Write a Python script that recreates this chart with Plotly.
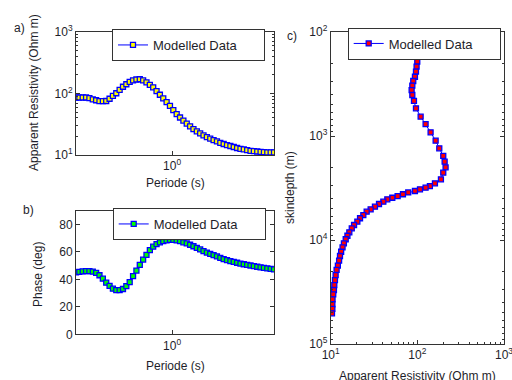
import plotly.graph_objects as go

# ---------------- data ----------------
period = [0.1259, 0.1353, 0.1455, 0.1564, 0.1681, 0.1808, 0.1943, 0.2089, 0.2246, 0.2415,
          0.2597, 0.2791, 0.3001, 0.3227, 0.3469, 0.3729, 0.4009, 0.4311, 0.4634, 0.4983,
          0.5356, 0.5758, 0.6191, 0.6655, 0.7156, 0.7691, 0.8270, 0.8889, 0.9556, 1.0275,
          1.1046, 1.1875, 1.2767, 1.3725, 1.4757, 1.5864, 1.7055, 1.8336, 1.9711, 2.1193,
          2.2782, 2.4491, 2.6333, 2.8308, 3.0434, 3.2718, 3.5172, 3.7818, 4.0654, 4.3712,
          4.6989, 5.0512, 5.4312, 5.8386, 6.2777, 6.7484, 7.2545, 7.8004, 8.3849, 9.0157]

app_res = [86.1, 86.1, 86.1, 86.1, 84.1, 80.4, 77.6, 75.3, 75.0, 75.5,
           82.2, 91.2, 101.0, 114.8, 128.8, 141.3, 154.9, 164.0, 169.0, 170.6,
           163.0, 151.4, 138.0, 125.9, 109.6, 95.5, 83.2, 72.4, 63.1, 53.7,
           46.2, 40.7, 36.3, 32.4, 29.2, 26.3, 24.3, 22.4, 20.9, 19.5,
           18.4, 17.4, 16.6, 15.8, 15.1, 14.5, 14.0, 13.5, 13.0, 12.6,
           12.3, 12.0, 11.7, 11.6, 11.4, 11.2, 11.1, 11.0, 11.0, 11.0]

phase = [45.1, 45.4, 45.8, 46.0, 46.0, 45.7, 44.7, 43.0, 40.5, 37.6,
         35.2, 33.2, 32.2, 32.1, 33.0, 35.1, 38.0, 42.3, 46.4, 50.5,
         54.4, 57.9, 61.3, 63.8, 65.7, 67.0, 67.8, 68.4, 68.8, 68.8,
         68.4, 67.8, 67.0, 66.2, 65.2, 64.1, 63.0, 61.8, 60.6, 59.5,
         58.6, 57.6, 56.7, 55.7, 54.8, 54.0, 53.3, 52.7, 52.1, 51.5,
         51.0, 50.6, 50.1, 49.6, 49.2, 48.8, 48.4, 48.0, 47.6, 47.3]

depth_res = [99.8, 98.0, 96.4, 93.8, 89.7, 87.5, 85.9, 87.5, 91.4, 96.4,
             109.1, 124.5, 142.2, 162.6, 179.1, 199.1, 206.5, 211.8, 199.1, 187.1,
             159.6, 139.6, 124.5, 107.2, 93.8, 78.5, 68.2, 59.2, 51.4, 45.0,
             40.5, 36.1, 32.4, 28.9, 26.0, 23.8, 21.8, 20.3, 18.6, 17.5,
             16.4, 15.6, 14.9, 14.2, 13.7, 13.2, 12.8, 12.5, 12.1, 11.7,
             11.4, 11.2, 11.0, 10.9, 10.7, 10.5, 10.45, 10.45, 10.35]

skindepth = [192.8, 215.3, 240.4, 269.2, 295.8, 328.1, 361.4, 403.6, 460.3, 542.0,
             651.6, 767.4, 922.6, 1109, 1315, 1556, 1766, 2000, 2254, 2612,
             2851, 3027, 3141, 3258, 3381, 3491, 3631, 3793, 3926, 4064,
             4285, 4508, 4786, 5070, 5346, 5754, 6180, 6668, 7178, 7727,
             8433, 9099, 9840, 10765, 11749, 12972, 14256, 15812, 17660, 19409,
             21727, 24266, 27101, 30269, 33266, 37154, 41495, 46026, 50699]

period_ticks = [1]
period_ticktext = ["10<sup>0</sup>"]
res_ticks = [10, 100, 1000]
res_ticktext = ["10<sup>1</sup>", "10<sup>2</sup>", "10<sup>3</sup>"]
res_minor = [20, 30, 40, 50, 60, 70, 80, 90, 200, 300, 400, 500, 600, 700, 800, 900]
phase_ticks = [0, 20, 40, 60, 80]
depth_ticks = [100, 1000, 10000, 100000]
depth_ticktext = ["10<sup>2</sup>", "10<sup>3</sup>", "10<sup>4</sup>", "10<sup>5</sup>"]
depth_minor = [200, 300, 400, 500, 600, 700, 800, 900,
               2000, 3000, 4000, 5000, 6000, 7000, 8000, 9000,
               20000, 30000, 40000, 50000, 60000, 70000, 80000, 90000]
series_name = "Modelled Data"

# ---------------- figure ----------------
FONT = "Liberation Sans, Arial, sans-serif"
TXT = "#1e1e2a"
FRAME = "#333333"
BLUE = "#0000ff"

fig = go.Figure()

def mk(fill):
    return dict(symbol="square", size=5, color=fill, line=dict(color=BLUE, width=1.3))

fig.add_trace(go.Scatter(x=period, y=app_res, mode="lines+markers", name=series_name,
                         line=dict(color=BLUE, width=1), marker=mk("#ffff00"),
                         xaxis="x", yaxis="y", legend="legend"))
fig.add_trace(go.Scatter(x=period, y=phase, mode="lines+markers", name=series_name,
                         line=dict(color=BLUE, width=1), marker=mk("#00ff00"),
                         xaxis="x2", yaxis="y2", legend="legend2"))
fig.add_trace(go.Scatter(x=depth_res, y=skindepth, mode="lines+markers", name=series_name,
                         line=dict(color=BLUE, width=1), marker=mk("#ff0000"),
                         xaxis="x3", yaxis="y3", legend="legend3"))

common = dict(showline=True, linecolor=FRAME, linewidth=1, mirror="ticks", ticks="inside",
              ticklen=4, tickcolor=FRAME, showgrid=False, zeroline=False, automargin=False,
              ticklabeloverflow="allow",
              tickfont=dict(family=FONT, size=12, color=TXT))

def minor(vals):
    return dict(tickmode="array", tickvals=vals, ticks="inside", ticklen=2,
                tickcolor=FRAME, showgrid=False)

W, H = 512, 380
def xd(a, b):
    return [a / W, b / W]
def yd(top, bot):
    return [1 - bot / H, 1 - top / H]

fig.update_layout(
    template="none",
    width=W, height=H, margin=dict(l=0, r=0, t=0, b=0, pad=0, autoexpand=False),
    paper_bgcolor="white", plot_bgcolor="white",
    font=dict(family=FONT, size=12, color=TXT),
    xaxis=dict(type="log", domain=xd(76, 274), range=[-0.9, 0.955], anchor="y",
               tickmode="array", tickvals=period_ticks, ticktext=period_ticktext, **common),
    yaxis=dict(type="log", domain=yd(32, 155), range=[1, 3], anchor="x",
               tickmode="array", tickvals=res_ticks, ticktext=res_ticktext,
               minor=minor(res_minor), **common),
    xaxis2=dict(type="log", domain=xd(76, 274), range=[-0.9, 0.955], anchor="y2",
                tickmode="array", tickvals=period_ticks, ticktext=period_ticktext, **common),
    yaxis2=dict(domain=yd(210.7, 334.3), range=[0, 90], anchor="x2",
                tickmode="array", tickvals=phase_ticks, **common),
    xaxis3=dict(type="log", domain=xd(330.7, 504), range=[1, 3], anchor="y3",
                tickmode="array", tickvals=res_ticks, ticktext=res_ticktext,
                minor=minor(res_minor), **common),
    yaxis3=dict(type="log", domain=yd(32, 344), range=[5, 2], anchor="x3",
                tickmode="array", tickvals=depth_ticks, ticktext=depth_ticktext,
                minor=minor(depth_minor), **common),
    showlegend=True,
)

leg = dict(bgcolor="white", bordercolor=FRAME, borderwidth=1, orientation="h",
           font=dict(family=FONT, size=13, color=TXT), xanchor="right", yanchor="bottom",
           tracegroupgap=0, itemwidth=30, entrywidth=106, entrywidthmode="pixels")
fig.update_layout(
    legend=dict(x=265 / W, y=1 - 61 / H, **leg),
    legend2=dict(x=265.7 / W, y=1 - 240 / H, **leg),
    legend3=dict(x=500.7 / W, y=1 - 59.5 / H, **leg),
)

def ann(text, x, y, angle=0, size=12):
    fig.add_annotation(text=text, x=x / W, y=1 - y / H, xref="paper", yref="paper",
                       showarrow=False, textangle=angle, xanchor="center", yanchor="middle",
                       font=dict(family=FONT, size=size, color=TXT))

ann("a)", 19, 28)
ann("b)", 28, 210)
ann("c)", 292, 36)
ann("Apparent Resistivity (Ohm m)", 34, 93, angle=-90)
ann("Periode (s)", 175, 183)
ann("Phase (deg)", 38, 275, angle=-90)
ann("Periode (s)", 175, 366)
ann("skindepth (m)", 290, 188, angle=-90)
ann("Apparent Resistivity (Ohm m)", 417, 376)

fig.write_html("out.html", config={"displayModeBar": False},
               post_script="document.body.style.margin='0px';"
                           "document.body.style.overflow='hidden';")
